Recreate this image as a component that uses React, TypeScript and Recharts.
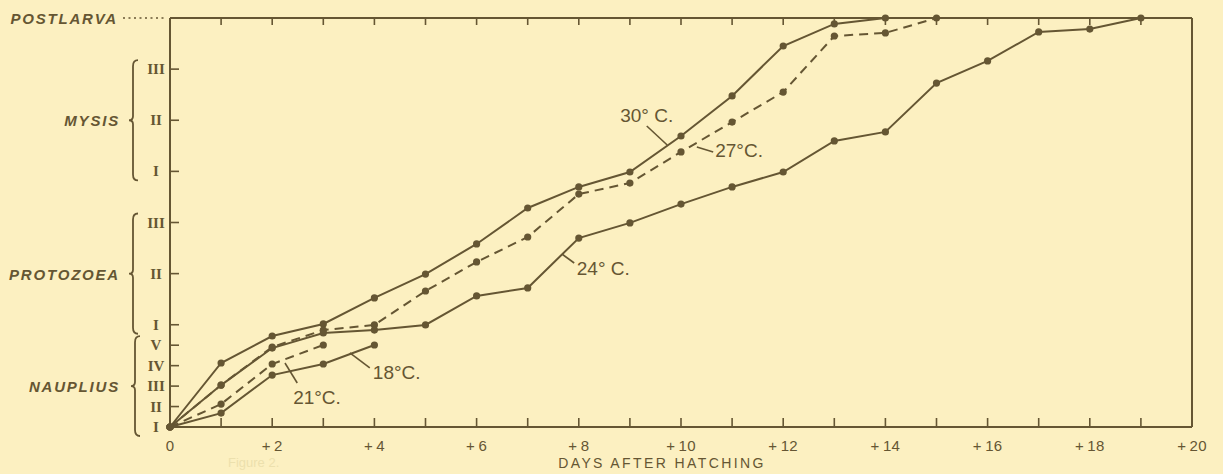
import React from "react";
import { LineChart, Line, XAxis, YAxis, ReferenceLine, ReferenceDot } from "recharts";

const INK = "#655633";
const PAPER = "#fcf0c1";

// chart frame (px)
const W = 1223;
const H = 474;
const LEFT_W = 170;
const RIGHT_W = 31;
const TOP_H = 18;
const BOTTOM_H = 47;
const PLOT_H = H - TOP_H - BOTTOM_H;

const DAYS = [0, 1, 2, 3, 4, 5, 6, 7, 8, 9, 10, 11, 12, 13, 14, 15, 16, 17, 18, 19, 20];

// stage index: nauplius I..V = 0..4, protozoea I..III = 5, 7.5, 10, mysis I..III = 12.5, 15, 17.5, postlarva = 20
const T30 = [0, 3.13, 4.45, 5.04, 6.31, 7.48, 8.95, 10.71, 11.74, 12.47, 14.23, 16.19, 18.63, 19.71, 20];
const T27 = [0, 2.05, 3.91, 4.74, 4.99, 6.65, 8.07, 9.29, 11.39, 11.93, 13.45, 14.91, 16.38, 19.12, 19.27, 20];
const T24 = [0, 2.05, 3.86, 4.6, 4.74, 4.99, 6.41, 6.8, 9.24, 9.98, 10.9, 11.74, 12.47, 13.99, 14.43, 16.82, 17.9, 19.32, 19.46, 20];
const T21 = [0, 1.12, 3.08, 4.01];
const T18 = [0, 0.68, 2.54, 3.08, 4.01];

const STAGE_TICKS = [0, 1, 2, 3, 4, 5, 7.5, 10, 12.5, 15, 17.5, 20];
const STAGE_NUMERALS = ["I", "II", "III", "IV", "V", "I", "II", "III", "I", "II", "III", ""];
const GROUP_NAMES = ["NAUPLIUS", "PROTOZOEA", "MYSIS"];
const GROUP_FROM = [0, 5, 12.5];
const GROUP_MID = [2, 7.5, 15];
const GROUP_TO = [4, 10, 17.5];

// temperature captions and their leader lines, in day / stage units
const TEMP_TEXT = ["30° C.", "27°C.", "24° C.", "21°C.", "18°C."];
const TEMP_AT = [
  [8.81, 15.26],
  [10.67, 13.55],
  [7.96, 7.78],
  [2.41, 1.47],
  [3.97, 2.69],
];
const LEADERS = [
  [9.33, 14.72, 9.73, 13.79],
  [10.31, 13.69, 10.63, 13.45],
  [7.67, 8.46, 7.91, 8.02],
  [2.25, 3.13, 2.49, 2.15],
  [3.52, 3.62, 3.91, 2.89],
];

const data = DAYS.map((d, i) => ({
  day: d,
  t30: T30[i],
  t27: T27[i],
  t24: T24[i],
  t21: T21[i],
  t18: T18[i],
}));

const sans = "'Liberation Sans', Arial, sans-serif";
const ppu = PLOT_H / 20;

const BottomTick = (props: any) => {
  const { x, y, payload } = props;
  const v = payload.value;
  return (
    <g>
      {v > 0 && v < 20 && <line x1={x} y1={y} x2={x} y2={y - 9} stroke={INK} strokeWidth={1.6} />}
      {v % 2 === 0 && (
        <text x={x} y={y + 24} textAnchor="middle" fill={INK} fontFamily={sans} fontSize={15} letterSpacing={0.3}>
          {v === 0 ? "0" : `+\u2009${v}`}
        </text>
      )}
    </g>
  );
};

const TopTick = (props: any) => {
  const { x, y, payload } = props;
  const v = payload.value;
  if (v <= 0 || v >= 20) return <g />;
  return <line x1={x} y1={y} x2={x} y2={y + 7} stroke={INK} strokeWidth={1.6} />;
};

const RightTick = (props: any) => {
  const { x, y, payload } = props;
  const v = payload.value;
  if (v <= 0 || v >= 20) return <g />;
  return <line x1={x} y1={y} x2={x - 10} y2={y} stroke={INK} strokeWidth={1.6} />;
};

const bracePath = (bx: number, top: number, mid: number, bot: number) =>
  `M ${bx + 5} ${top} Q ${bx} ${top} ${bx} ${top + 6} L ${bx} ${mid - 4} Q ${bx} ${mid} ${bx - 4} ${mid} ` +
  `Q ${bx} ${mid} ${bx} ${mid + 4} L ${bx} ${bot - 6} Q ${bx} ${bot} ${bx + 5} ${bot}`;

const LeftTick = (props: any) => {
  const { x, y, payload } = props;
  const v = payload.value;
  const idx = STAGE_TICKS.indexOf(v);
  const g = GROUP_MID.indexOf(v);
  if (v === 20) {
    return (
      <g>
        <text x={x - 52} y={y + 6} textAnchor="end" fill={INK} fontFamily={sans} fontSize={15}
          fontWeight="bold" fontStyle="italic" letterSpacing={1.8}>
          POSTLARVA
        </text>
        <line x1={x - 47} y1={y} x2={x - 3} y2={y} stroke={INK} strokeWidth={1.5} strokeDasharray="2 3.5" />
      </g>
    );
  }
  return (
    <g>
      {v > 0 && <line x1={x} y1={y} x2={x + 9} y2={y} stroke={INK} strokeWidth={1.6} />}
      <text x={x - 14} y={y + 5} textAnchor="middle" fill={INK} fontFamily="'Liberation Serif', serif"
        fontWeight="bold" fontSize={15}>
        {STAGE_NUMERALS[idx]}
      </text>
      {g >= 0 && (
        <g>
          <path
            d={bracePath(x - 37 + (g === 0 ? 2 : 0), y - (GROUP_TO[g] - GROUP_MID[g]) * ppu - 9, y,
              y + (GROUP_MID[g] - GROUP_FROM[g]) * ppu + 9)}
            fill="none" stroke={INK} strokeWidth={1.8}
          />
          <text x={x - 50} y={y + 6} textAnchor="end" fill={INK} fontFamily={sans} fontSize={15}
            fontWeight="bold" fontStyle="italic" letterSpacing={1.8}>
            {GROUP_NAMES[g]}
          </text>
        </g>
      )}
    </g>
  );
};

const dot = { r: 3.6, fill: INK, stroke: INK, strokeWidth: 0 };
const axisLine = { stroke: INK, strokeWidth: 2 };

export default function App() {
  return (
    <div style={{ position: "absolute", left: 0, top: 0, width: W, height: H, background: PAPER, overflow: "hidden" }}>
      <LineChart width={W} height={H} data={data} margin={{ top: 0, right: 0, bottom: 0, left: 0 }}>
        <XAxis dataKey="day" type="number" domain={[0, 20]} ticks={DAYS} height={BOTTOM_H}
          axisLine={axisLine} tickLine={false} tickSize={0} tickMargin={0} tick={<BottomTick />} interval={0} />
        <XAxis xAxisId="top" orientation="top" dataKey="day" type="number" domain={[0, 20]} ticks={DAYS}
          height={TOP_H} axisLine={axisLine} tickLine={false} tickSize={0} tickMargin={0} tick={<TopTick />} interval={0} />
        <YAxis type="number" domain={[0, 20]} ticks={STAGE_TICKS} width={LEFT_W} axisLine={axisLine}
          tickLine={false} tickSize={0} tickMargin={0} tick={<LeftTick />} interval={0} />
        <YAxis yAxisId="right" orientation="right" type="number" domain={[0, 20]} ticks={STAGE_TICKS}
          width={RIGHT_W} axisLine={axisLine} tickLine={false} tickSize={0} tickMargin={0} tick={<RightTick />} interval={0} />

        <Line dataKey="t30" stroke={INK} strokeWidth={2} dot={dot} isAnimationActive={false} />
        <Line dataKey="t27" stroke={INK} strokeWidth={2} strokeDasharray="9 6" dot={dot} isAnimationActive={false} />
        <Line dataKey="t24" stroke={INK} strokeWidth={2} dot={dot} isAnimationActive={false} />
        <Line dataKey="t21" stroke={INK} strokeWidth={2} strokeDasharray="9 6" dot={dot} isAnimationActive={false} />
        <Line dataKey="t18" stroke={INK} strokeWidth={2} dot={dot} isAnimationActive={false} />

        {LEADERS.map((l, i) => (
          <ReferenceLine key={`l${i}`} segment={[{ x: l[0], y: l[1] }, { x: l[2], y: l[3] }]}
            stroke={INK} strokeWidth={1.6} />
        ))}
        {TEMP_AT.map((p, i) => (
          <ReferenceDot key={`t${i}`} x={p[0]} y={p[1]} r={0}
            shape={(s: any) => (
              <text x={s.cx} y={s.cy + 7} fill={INK} fontFamily={sans} fontSize={19}>
                {TEMP_TEXT[i]}
              </text>
            )}
          />
        ))}
      </LineChart>
      <div style={{ position: "absolute", left: 228, top: 455, fontFamily: sans, fontSize: 13, color: "#ece0ad",
        whiteSpace: "nowrap" }}>
        Figure 2.
      </div>
      <div style={{ position: "absolute", left: 662, top: 455, transform: "translateX(-50%)", whiteSpace: "nowrap",
        fontFamily: sans, fontSize: 14, color: INK, letterSpacing: 2.4 }}>
        DAYS AFTER HATCHING
      </div>
    </div>
  );
}
